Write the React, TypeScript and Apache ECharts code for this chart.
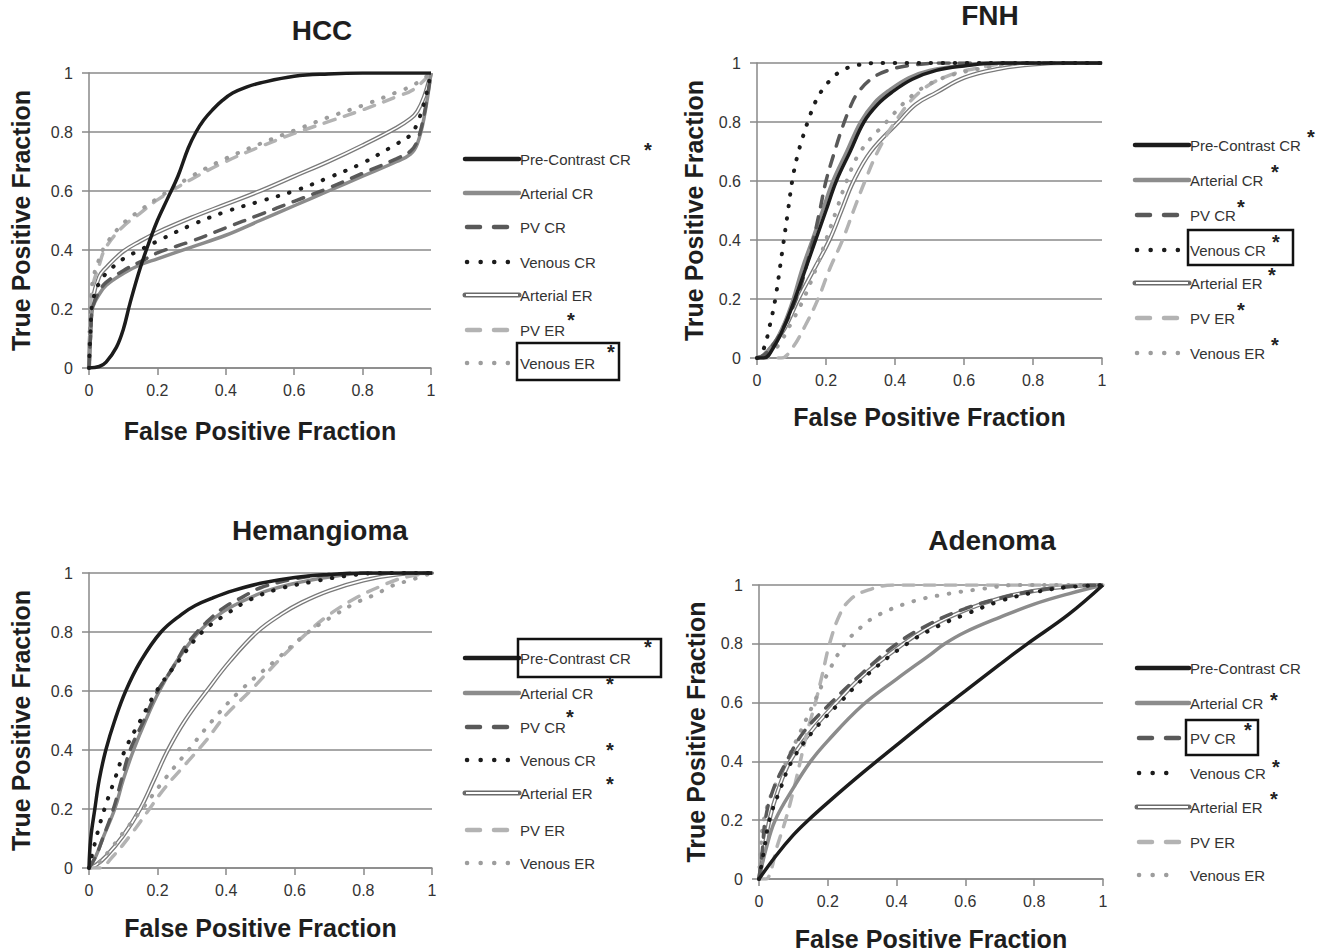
import React, { useEffect, useRef } from "react";
import * as echarts from "echarts";

// ---------------- DATA ----------------
const SERIES_NAMES = ["Pre-Contrast CR", "Arterial CR", "PV CR", "Venous CR", "Arterial ER", "PV ER", "Venous ER"];
const PANEL_TITLES = ["HCC", "FNH", "Hemangioma", "Adenoma"];
const AXIS_X_TITLE = "False Positive Fraction";
const AXIS_Y_TITLE = "True Positive Fraction";

// HCC
const HCC_PRE_CR = [[0,0],[0.03,0.005],[0.05,0.02],[0.08,0.07],[0.1,0.13],[0.12,0.22],[0.15,0.34],[0.18,0.44],[0.2,0.5],[0.23,0.575],[0.26,0.65],[0.29,0.745],[0.313,0.8],[0.335,0.84],[0.362,0.876],[0.39,0.907],[0.42,0.932],[0.46,0.952],[0.5,0.966],[0.6,0.989],[0.7,0.997],[0.8,1],[1,1]];
const HCC_ART_CR = [[0,0],[0.005,0.12],[0.01,0.2],[0.03,0.25],[0.05,0.28],[0.1,0.32],[0.15,0.35],[0.2,0.37],[0.3,0.41],[0.4,0.45],[0.5,0.5],[0.6,0.55],[0.7,0.6],[0.8,0.65],[0.9,0.7],[0.94,0.725],[0.96,0.76],[0.98,0.85],[1,1]];
const HCC_PV_CR = [[0,0],[0.005,0.12],[0.01,0.2],[0.03,0.26],[0.05,0.29],[0.1,0.33],[0.15,0.36],[0.2,0.39],[0.3,0.43],[0.4,0.475],[0.5,0.52],[0.6,0.565],[0.7,0.61],[0.8,0.66],[0.9,0.71],[0.94,0.735],[0.96,0.77],[0.98,0.86],[1,1]];
const HCC_VEN_CR = [[0,0],[0.005,0.14],[0.01,0.22],[0.03,0.29],[0.05,0.32],[0.1,0.37],[0.15,0.4],[0.2,0.43],[0.3,0.485],[0.4,0.53],[0.5,0.565],[0.6,0.6],[0.7,0.645],[0.8,0.695],[0.9,0.76],[0.94,0.79],[0.96,0.83],[0.98,0.9],[1,1]];
const HCC_ART_ER = [[0,0],[0.005,0.15],[0.01,0.23],[0.03,0.31],[0.05,0.34],[0.1,0.395],[0.15,0.43],[0.2,0.46],[0.3,0.51],[0.4,0.555],[0.5,0.6],[0.6,0.65],[0.7,0.7],[0.8,0.755],[0.9,0.815],[0.94,0.845],[0.96,0.87],[0.98,0.92],[1,1]];
const HCC_PV_ER = [[0,0],[0.003,0.15],[0.01,0.27],[0.03,0.35],[0.05,0.41],[0.1,0.48],[0.15,0.525],[0.2,0.57],[0.3,0.64],[0.4,0.7],[0.5,0.75],[0.6,0.795],[0.7,0.835],[0.8,0.875],[0.9,0.92],[0.95,0.945],[1,1]];
const HCC_VEN_ER = [[0,0],[0.003,0.17],[0.01,0.29],[0.03,0.37],[0.05,0.42],[0.1,0.49],[0.15,0.535],[0.2,0.575],[0.3,0.65],[0.4,0.71],[0.5,0.76],[0.6,0.805],[0.7,0.85],[0.8,0.89],[0.9,0.935],[0.95,0.96],[1,1]];

// FNH
const FNH_PRE_CR = [[0,0],[0.02,0],[0.05,0.04],[0.08,0.11],[0.11,0.2],[0.14,0.3],[0.17,0.4],[0.2,0.5],[0.23,0.6],[0.27,0.7],[0.31,0.8],[0.35,0.86],[0.39,0.9],[0.45,0.945],[0.52,0.975],[0.6,0.99],[0.7,1],[1,1]];
const FNH_ART_CR = [[0,0],[0.02,0.01],[0.05,0.05],[0.08,0.12],[0.105,0.2],[0.13,0.3],[0.16,0.4],[0.19,0.5],[0.22,0.6],[0.26,0.7],[0.3,0.8],[0.34,0.865],[0.38,0.905],[0.44,0.95],[0.5,0.975],[0.6,0.993],[0.7,1],[1,1]];
const FNH_PV_CR = [[0,0],[0.02,0.01],[0.05,0.05],[0.08,0.11],[0.1,0.16],[0.126,0.24],[0.145,0.32],[0.165,0.41],[0.182,0.5],[0.2,0.6],[0.225,0.7],[0.247,0.78],[0.27,0.85],[0.29,0.895],[0.33,0.945],[0.38,0.975],[0.45,0.993],[0.55,1],[1,1]];
const FNH_VEN_CR = [[0,0],[0.019,0.03],[0.037,0.11],[0.053,0.2],[0.073,0.36],[0.09,0.5],[0.102,0.6],[0.116,0.68],[0.133,0.75],[0.15,0.81],[0.17,0.87],[0.19,0.91],[0.215,0.945],[0.24,0.97],[0.28,0.99],[0.35,1],[1,1]];
const FNH_ART_ER = [[0,0],[0.02,0.01],[0.05,0.05],[0.08,0.1],[0.12,0.2],[0.165,0.3],[0.21,0.4],[0.245,0.5],[0.28,0.6],[0.33,0.7],[0.41,0.8],[0.46,0.86],[0.52,0.9],[0.6,0.95],[0.7,0.98],[0.8,0.995],[0.9,1],[1,1]];
const FNH_PV_ER = [[0,0],[0.07,0],[0.1,0.03],[0.14,0.11],[0.177,0.2],[0.21,0.3],[0.248,0.4],[0.28,0.5],[0.313,0.6],[0.35,0.7],[0.4,0.8],[0.47,0.9],[0.55,0.955],[0.65,0.985],[0.75,1],[1,1]];
const FNH_VEN_ER = [[0,0],[0.03,0.01],[0.06,0.04],[0.1,0.12],[0.135,0.2],[0.17,0.3],[0.2,0.4],[0.23,0.5],[0.26,0.6],[0.3,0.7],[0.375,0.8],[0.45,0.89],[0.52,0.94],[0.6,0.97],[0.7,0.99],[0.8,1],[1,1]];

// Hemangioma
const HEM_PRE_CR = [[0,0],[0.005,0.1],[0.017,0.2],[0.03,0.3],[0.049,0.4],[0.075,0.5],[0.107,0.6],[0.15,0.7],[0.21,0.8],[0.27,0.86],[0.31,0.89],[0.36,0.915],[0.42,0.94],[0.5,0.965],[0.6,0.985],[0.7,0.995],[0.8,1],[1,1]];
const HEM_ART_CR = [[0,0],[0.02,0.04],[0.04,0.1],[0.075,0.2],[0.1,0.3],[0.13,0.4],[0.165,0.5],[0.205,0.6],[0.255,0.7],[0.32,0.8],[0.38,0.86],[0.44,0.9],[0.52,0.94],[0.62,0.97],[0.72,0.99],[0.82,1],[1,1]];
const HEM_PV_CR = [[0,0],[0.02,0.04],[0.04,0.1],[0.071,0.2],[0.095,0.3],[0.12,0.4],[0.16,0.5],[0.2,0.6],[0.24,0.67],[0.28,0.75],[0.3,0.78],[0.34,0.83],[0.39,0.88],[0.45,0.92],[0.5,0.95],[0.6,0.98],[0.7,0.995],[0.8,1],[1,1]];
const HEM_VEN_CR = [[0,0],[0.01,0.05],[0.025,0.12],[0.045,0.2],[0.075,0.3],[0.105,0.4],[0.15,0.5],[0.197,0.6],[0.26,0.7],[0.33,0.8],[0.4,0.86],[0.47,0.91],[0.55,0.945],[0.65,0.97],[0.75,0.99],[0.85,1],[1,1]];
const HEM_ART_ER = [[0,0],[0.02,0.01],[0.05,0.04],[0.1,0.11],[0.149,0.2],[0.19,0.3],[0.23,0.4],[0.28,0.5],[0.343,0.6],[0.41,0.7],[0.49,0.8],[0.56,0.86],[0.62,0.9],[0.7,0.94],[0.8,0.975],[0.9,0.995],[1,1]];
const HEM_PV_ER = [[0,0],[0.03,0],[0.07,0.04],[0.12,0.11],[0.17,0.19],[0.22,0.27],[0.28,0.35],[0.34,0.43],[0.4,0.52],[0.47,0.6],[0.55,0.7],[0.62,0.78],[0.69,0.85],[0.77,0.91],[0.85,0.955],[0.92,0.985],[1,1]];
const HEM_VEN_ER = [[0,0],[0.03,0.02],[0.06,0.06],[0.1,0.12],[0.155,0.2],[0.22,0.3],[0.29,0.4],[0.36,0.5],[0.44,0.6],[0.54,0.7],[0.64,0.8],[0.72,0.86],[0.78,0.9],[0.84,0.93],[0.88,0.955],[0.94,0.977],[1,1]];

// Adenoma
const ADE_PRE_CR = [[0,0],[0.05,0.08],[0.1,0.15],[0.143,0.2],[0.2,0.26],[0.3,0.36],[0.4,0.455],[0.5,0.55],[0.6,0.64],[0.7,0.73],[0.78,0.8],[0.9,0.9],[1,1]];
const ADE_ART_CR = [[0,0],[0.02,0.1],[0.047,0.2],[0.1,0.31],[0.15,0.4],[0.2,0.47],[0.3,0.59],[0.4,0.68],[0.5,0.765],[0.54,0.8],[0.6,0.84],[0.7,0.89],[0.8,0.935],[0.9,0.97],[1,1]];
const ADE_PV_CR = [[0,0],[0.01,0.1],[0.018,0.2],[0.04,0.3],[0.08,0.4],[0.13,0.5],[0.21,0.6],[0.3,0.7],[0.4,0.8],[0.5,0.87],[0.6,0.92],[0.7,0.955],[0.8,0.98],[0.9,0.995],[1,1]];
const ADE_VEN_CR = [[0,0],[0.015,0.1],[0.03,0.2],[0.06,0.3],[0.095,0.4],[0.155,0.5],[0.235,0.6],[0.32,0.7],[0.43,0.8],[0.52,0.86],[0.6,0.9],[0.7,0.945],[0.8,0.975],[0.9,0.993],[1,1]];
const ADE_ART_ER = [[0,0],[0.015,0.1],[0.03,0.2],[0.055,0.3],[0.09,0.4],[0.15,0.5],[0.225,0.6],[0.31,0.7],[0.42,0.8],[0.5,0.86],[0.6,0.915],[0.7,0.955],[0.8,0.98],[0.9,0.995],[1,1]];
const ADE_PV_ER = [[0,0],[0.02,0],[0.035,0.03],[0.05,0.1],[0.077,0.2],[0.1,0.3],[0.12,0.4],[0.14,0.5],[0.164,0.6],[0.185,0.7],[0.205,0.8],[0.235,0.9],[0.265,0.95],[0.31,0.98],[0.39,1],[1,1]];
const ADE_VEN_ER = [[0,0],[0.005,0.1],[0.014,0.2],[0.04,0.3],[0.08,0.4],[0.12,0.5],[0.16,0.6],[0.2,0.7],[0.25,0.8],[0.3,0.86],[0.35,0.9],[0.45,0.945],[0.55,0.97],[0.65,0.987],[0.75,1],[1,1]];

const PANEL_CURVES = [
  [HCC_PRE_CR, HCC_ART_CR, HCC_PV_CR, HCC_VEN_CR, HCC_ART_ER, HCC_PV_ER, HCC_VEN_ER],
  [FNH_PRE_CR, FNH_ART_CR, FNH_PV_CR, FNH_VEN_CR, FNH_ART_ER, FNH_PV_ER, FNH_VEN_ER],
  [HEM_PRE_CR, HEM_ART_CR, HEM_PV_CR, HEM_VEN_CR, HEM_ART_ER, HEM_PV_ER, HEM_VEN_ER],
  [ADE_PRE_CR, ADE_ART_CR, ADE_PV_CR, ADE_VEN_CR, ADE_ART_ER, ADE_PV_ER, ADE_VEN_ER],
];

// significance markers (asterisk) per legend entry
const HCC_STARRED = [true, false, false, false, false, true, true];
const FNH_STARRED = [true, true, true, true, true, true, true];
const HEM_STARRED = [true, true, true, true, true, false, false];
const ADE_STARRED = [false, true, true, true, true, false, false];
const PANEL_STARRED = [HCC_STARRED, FNH_STARRED, HEM_STARRED, ADE_STARRED];

// ---------------- LAYOUT / STYLE ----------------
const LAYOUT = [
  { grid: { left: 89, top: 73, width: 342, height: 295 }, title: [322, 30], xGap: 50, yGap: 56,
    lg: { x0: 465, x1: 519, tx: 520, rows: [159, 193, 227, 262, 295, 330, 363] },
    stars: [[648, 150], null, null, null, null, [571, 320], [611, 352]], box: [517, 343, 102, 37] },
  { grid: { left: 757, top: 63, width: 345, height: 295 }, title: [990, 15], xGap: 46, yGap: 51,
    lg: { x0: 1135, x1: 1189, tx: 1190, rows: [145, 180, 215, 250, 283, 318, 353] },
    stars: [[1311, 137], [1275, 172], [1241, 207], [1276, 242], [1272, 275], [1241, 310], [1275, 345]], box: [1188, 230, 105, 35] },
  { grid: { left: 89, top: 573, width: 343, height: 295 }, title: [320, 530], xGap: 47, yGap: 56,
    lg: { x0: 465, x1: 519, tx: 520, rows: [658, 693, 727, 760, 793, 830, 863] },
    stars: [[648, 647], [610, 684], [570, 717], [610, 750], [610, 784], null, null], box: [518, 639, 143, 38] },
  { grid: { left: 759, top: 585, width: 344, height: 294 }, title: [992, 540], xGap: 47, yGap: 51,
    lg: { x0: 1137, x1: 1189, tx: 1190, rows: [668, 703, 738, 773, 807, 842, 875] },
    stars: [null, [1274, 700], [1248, 730], [1276, 767], [1274, 799], null, null], box: [1186, 720, 72, 35] },
];

const DASH = [11, 10];
const DOT = [0.5, 11.5];
const STYLES = [
  { color: "#1c1c1c", width: 3.5, type: "solid" as any, cap: "butt" },
  { color: "#8c8c8c", width: 3.5, type: "solid" as any, cap: "butt" },
  { color: "#595959", width: 3.5, type: DASH as any, cap: "round" },
  { color: "#1c1c1c", width: 4, type: DOT as any, cap: "round" },
  { color: "#7a7a7a", width: 4.2, type: "solid" as any, cap: "butt" },
  { color: "#b3b3b3", width: 3.5, type: DASH as any, cap: "round" },
  { color: "#9d9d9d", width: 4, type: DOT as any, cap: "round" },
];

const FONT = "Liberation Sans";

function buildOption() {
  const grid: any[] = [];
  const xAxis: any[] = [];
  const yAxis: any[] = [];
  const series: any[] = [];
  const graphic: any[] = [];
  const drawOrder = [4, 5, 6, 1, 2, 3, 0];

  LAYOUT.forEach((L, p) => {
    grid.push({ ...L.grid, containLabel: false });
    xAxis.push({
      type: "value", gridIndex: p, min: 0, max: 1, interval: 0.2,
      name: AXIS_X_TITLE, nameLocation: "middle", nameGap: L.xGap,
      nameTextStyle: { fontFamily: FONT, fontWeight: "bold", fontSize: 25, color: "#1e1e1e" },
      axisLine: { show: true, onZero: false, lineStyle: { color: "#888", width: 1.5 } },
      axisTick: { show: true, length: 7, lineStyle: { color: "#888", width: 1.5 } },
      axisLabel: { fontFamily: FONT, fontSize: 16, color: "#333", margin: 14 },
      splitLine: { show: false },
    });
    yAxis.push({
      type: "value", gridIndex: p, min: 0, max: 1, interval: 0.2,
      name: AXIS_Y_TITLE, nameLocation: "middle", nameGap: L.yGap,
      nameTextStyle: { fontFamily: FONT, fontWeight: "bold", fontSize: 25, color: "#1e1e1e" },
      axisLine: { show: true, lineStyle: { color: "#888", width: 1.5 } },
      axisTick: { show: true, length: 7, lineStyle: { color: "#888", width: 1.5 } },
      axisLabel: { fontFamily: FONT, fontSize: 16, color: "#333", margin: 16 },
      splitLine: { show: true, lineStyle: { color: "#8a8a8a", width: 1.5 } },
    });

    drawOrder.forEach((i) => {
      const st = STYLES[i];
      const base = {
        type: "line", xAxisIndex: p, yAxisIndex: p, data: PANEL_CURVES[p][i],
        showSymbol: false, symbol: "none", smooth: 0.4, silent: true,
      };
      if (i === 4) {
        series.push({ ...base, name: SERIES_NAMES[i], lineStyle: { color: st.color, width: st.width, type: "solid" } });
        series.push({ ...base, name: SERIES_NAMES[i] + " inner", lineStyle: { color: "#ffffff", width: 1.6, type: "solid" } });
      } else {
        series.push({ ...base, name: SERIES_NAMES[i], lineStyle: { color: st.color, width: st.width, type: st.type, cap: st.cap } });
      }
    });

    // title
    graphic.push({
      type: "text", x: L.title[0], y: L.title[1], silent: true,
      style: { text: PANEL_TITLES[p], font: `bold 28px "${FONT}"`, fill: "#1e1e1e",
        align: "center", verticalAlign: "middle", textAlign: "center", textVerticalAlign: "middle" },
    });

    // legend
    const lg = L.lg;
    SERIES_NAMES.forEach((name, i) => {
      const y = lg.rows[i];
      const st = STYLES[i];
      const dashed = i === 2 || i === 5;
      const dotted = i === 3 || i === 6;
      if (i === 4) {
        graphic.push({ type: "line", silent: true, shape: { x1: lg.x0, y1: y, x2: lg.x1, y2: y }, style: { stroke: "#6a6a6a", lineWidth: 5, lineCap: "round" } });
        graphic.push({ type: "line", silent: true, shape: { x1: lg.x0 + 1, y1: y, x2: lg.x1 - 1, y2: y }, style: { stroke: "#fff", lineWidth: 2 } });
      } else if (dashed) {
        graphic.push({ type: "line", silent: true, shape: { x1: lg.x0 + 2, y1: y, x2: lg.x1 - 10, y2: y },
          style: { stroke: st.color, lineWidth: 4.5, lineDash: [13, 14], lineCap: "round" } });
      } else if (dotted) {
        graphic.push({ type: "line", silent: true, shape: { x1: lg.x0 + 2, y1: y, x2: lg.x1 - 10, y2: y },
          style: { stroke: st.color, lineWidth: 4.5, lineDash: [0.1, 13.5], lineCap: "round" } });
      } else {
        graphic.push({ type: "line", silent: true, shape: { x1: lg.x0, y1: y, x2: lg.x1, y2: y },
          style: { stroke: st.color, lineWidth: 4.5, lineCap: "round" } });
      }
      graphic.push({
        type: "text", x: lg.tx, y, silent: true,
        style: { text: name, font: `15px "${FONT}"`, fill: "#333",
          align: "left", verticalAlign: "middle", textAlign: "left", textVerticalAlign: "middle" },
      });
      const s = L.stars[i];
      if (PANEL_STARRED[p][i] && s) {
        graphic.push({
          type: "text", x: s[0], y: s[1], silent: true,
          style: { text: "*", font: `bold 20px "${FONT}"`, fill: "#222",
            align: "center", verticalAlign: "middle", textAlign: "center", textVerticalAlign: "middle" },
        });
      }
    });
    const b = L.box;
    graphic.push({
      type: "rect", silent: true, shape: { x: b[0], y: b[1], width: b[2], height: b[3] },
      style: { fill: "none", stroke: "#111", lineWidth: 2.5 },
    });
  });

  return { animation: false, backgroundColor: "#ffffff", grid, xAxis, yAxis, series, graphic };
}

export default function App() {
  const ref = useRef<HTMLDivElement | null>(null);
  useEffect(() => {
    if (!ref.current) return;
    const chart = echarts.init(ref.current, undefined, { renderer: "svg" });
    chart.setOption(buildOption() as any);
    return () => chart.dispose();
  }, []);
  return (
    <div
      ref={ref}
      style={{ position: "fixed", left: 0, top: 0, width: 1331, height: 952, background: "#fff" }}
    />
  );
}
